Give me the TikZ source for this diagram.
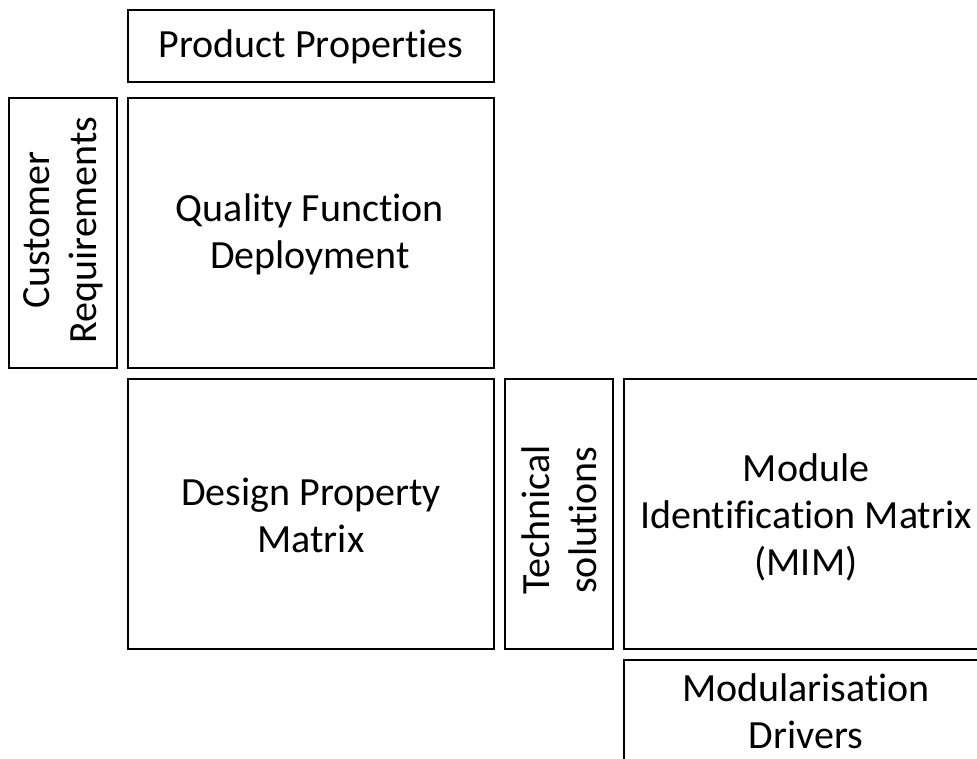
\documentclass[tikz,border=0pt]{standalone}
\usepackage{fontspec}
\setmainfont{Carlito}[Ligatures=CommonOff]
\begin{document}
\begin{tikzpicture}[x=1pt,y=-1pt,
  box/.style={draw=black,line width=2pt},
  lbl/.style={align=center,font=\fontsize{40}{47}\selectfont,inner sep=0pt}]
\clip (0,0) rectangle (977,758);
\fill[white] (0,0) rectangle (977,758);
\draw[box] (128,10) rectangle (494,82);
\draw[box] (128,98) rectangle (494,368);
\draw[box] (9,98) rectangle (117,368);
\draw[box] (128,379) rectangle (494,649);
\draw[box] (505,379) rectangle (613,649);
\draw[box] (624,379) rectangle (988,649);
\draw[box] (624,660) rectangle (988,800);
\node[lbl] (pp) at (311,47) {Product Properties};
\node[lbl] (qfd) at (310,234) {Quality Function\\Deployment};
\node[lbl,rotate=90] (cr) at (63,230) {Customer\\Requirements};
\node[lbl] (dpm) at (311,515) {Design Property\\Matrix};
\node[lbl,rotate=90] (ts) at (559,520) {Technical\\solutions};
\node[lbl] (mim) at (806,517) {Module\\Identification Matrix\\(MIM)};
\node[lbl] (md) at (806,711) {Modularisation\\Drivers};
\end{tikzpicture}
\end{document}
